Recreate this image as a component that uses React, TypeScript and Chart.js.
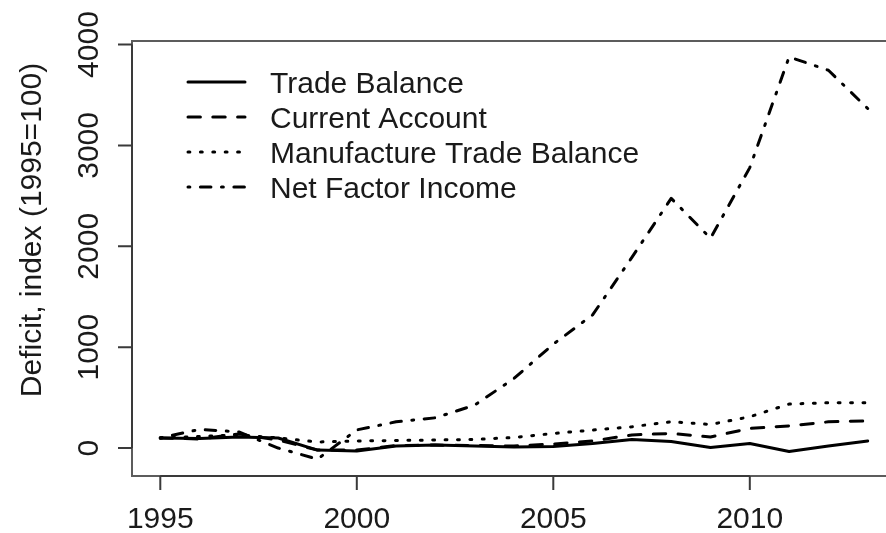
import React, { useEffect, useRef } from "react";
import { Chart, registerables } from "chart.js";

Chart.register(...registerables);

const years = [1995, 1996, 1997, 1998, 1999, 2000, 2001, 2002, 2003, 2004, 2005, 2006, 2007, 2008, 2009, 2010, 2011, 2012, 2013];
const tradeBalance = [100, 95, 110, 100, -20, -30, 20, 30, 20, 10, 15, 45, 85, 65, 5, 45, -35, 20, 70];
const currentAccount = [100, 90, 140, 80, -20, -20, 25, 30, 25, 20, 40, 70, 130, 145, 110, 195, 220, 260, 270];
const manufactureTradeBalance = [100, 115, 130, 100, 60, 70, 75, 80, 85, 105, 145, 178, 211, 261, 234, 310, 436, 449, 450];
const netFactorIncome = [100, 185, 160, 0, -110, 180, 260, 300, 426, 690, 1030, 1320, 1890, 2475, 2080, 2780, 3877, 3745, 3366];

const seriesNames = ["Trade Balance", "Current Account", "Manufacture Trade Balance", "Net Factor Income"];
const xTicks = [1995, 2000, 2005, 2010];
const yTicks = [0, 1000, 2000, 3000, 4000];
const yTitle = "Deficit, index (1995=100)";

const U = 3.1;
const dashes: number[][] = [[], [4 * U, 4 * U], [0.6 * U, 3.4 * U], [0.6 * U, 3.4 * U, 3.4 * U, 3.4 * U]];
const FONT = '30px "Liberation Sans", Arial, sans-serif';
const TEXT = "#1a1a1a";

const rPlugin = {
  id: "rstyle",
  afterDraw(chart: any) {
    const { ctx, chartArea: ca, scales } = chart;
    const x = scales.x;
    const y = scales.y;
    ctx.save();
    // box
    ctx.strokeStyle = "#5c5c5c";
    ctx.lineWidth = 2;
    ctx.setLineDash([]);
    ctx.strokeRect(ca.left, ca.top, ca.right - ca.left, ca.bottom - ca.top);

    // x axis
    ctx.strokeStyle = "#3a3a3a";
    const xs = xTicks.map((v) => x.getPixelForValue(v));
    ctx.beginPath();
    ctx.moveTo(xs[0], ca.bottom);
    ctx.lineTo(xs[xs.length - 1], ca.bottom);
    xs.forEach((px) => {
      ctx.moveTo(px, ca.bottom);
      ctx.lineTo(px, ca.bottom + 14);
    });
    ctx.stroke();
    ctx.fillStyle = TEXT;
    ctx.font = FONT;
    ctx.textAlign = "center";
    ctx.textBaseline = "alphabetic";
    xTicks.forEach((v, i) => ctx.fillText(String(v), xs[i], 528));

    // y axis
    const ys = yTicks.map((v) => y.getPixelForValue(v));
    ctx.beginPath();
    ctx.moveTo(ca.left, ys[0]);
    ctx.lineTo(ca.left, ys[ys.length - 1]);
    ys.forEach((py) => {
      ctx.moveTo(ca.left, py);
      ctx.lineTo(ca.left - 14, py);
    });
    ctx.stroke();
    yTicks.forEach((v, i) => {
      ctx.save();
      ctx.translate(98, ys[i]);
      ctx.rotate(-Math.PI / 2);
      ctx.fillText(String(v), 0, 0);
      ctx.restore();
    });
    ctx.save();
    ctx.translate(41, 230);
    ctx.rotate(-Math.PI / 2);
    ctx.fillText(yTitle, 0, 0);
    ctx.restore();

    // legend
    ctx.textAlign = "left";
    seriesNames.forEach((name, i) => {
      const base = 93 + i * 35;
      ctx.fillStyle = TEXT;
      ctx.fillText(name, 270, base);
      ctx.strokeStyle = "#000";
      ctx.lineWidth = 3;
      ctx.lineCap = "round";
      ctx.setLineDash(dashes[i]);
      ctx.beginPath();
      ctx.moveTo(188, base - 11);
      ctx.lineTo(245, base - 11);
      ctx.stroke();
    });
    ctx.restore();
  },
};

export default function App() {
  const ref = useRef<HTMLCanvasElement | null>(null);
  useEffect(() => {
    if (!ref.current) return;
    const series = [tradeBalance, currentAccount, manufactureTradeBalance, netFactorIncome];
    const chart = new Chart(ref.current, {
      type: "line",
      data: {
        datasets: series.map((s, i) => ({
          label: seriesNames[i],
          data: years.map((yr, j) => ({ x: yr, y: s[j] })),
          borderColor: "#000",
          borderWidth: 3,
          borderDash: dashes[i],
          borderCapStyle: "round" as const,
          borderJoinStyle: "round" as const,
          pointRadius: 0,
          tension: 0,
          fill: false,
        })),
      },
      options: {
        animation: false,
        responsive: false,
        maintainAspectRatio: false,
        devicePixelRatio: 1,
        layout: { padding: { left: 132, top: 41, right: 14, bottom: 57 } },
        plugins: { legend: { display: false }, tooltip: { enabled: false } },
        scales: {
          x: { type: "linear", min: 1994.28, max: 2013.72, display: false },
          y: { type: "linear", min: -277, max: 4035, display: false },
        },
      },
      plugins: [rPlugin],
    });
    return () => chart.destroy();
  }, []);
  return (
    <div style={{ position: "fixed", left: 0, top: 0, width: 886, height: 533, overflow: "hidden", background: "#fff" }}>
      <canvas ref={ref} width={910} height={533} style={{ width: 910, height: 533, display: "block" }} />
    </div>
  );
}
